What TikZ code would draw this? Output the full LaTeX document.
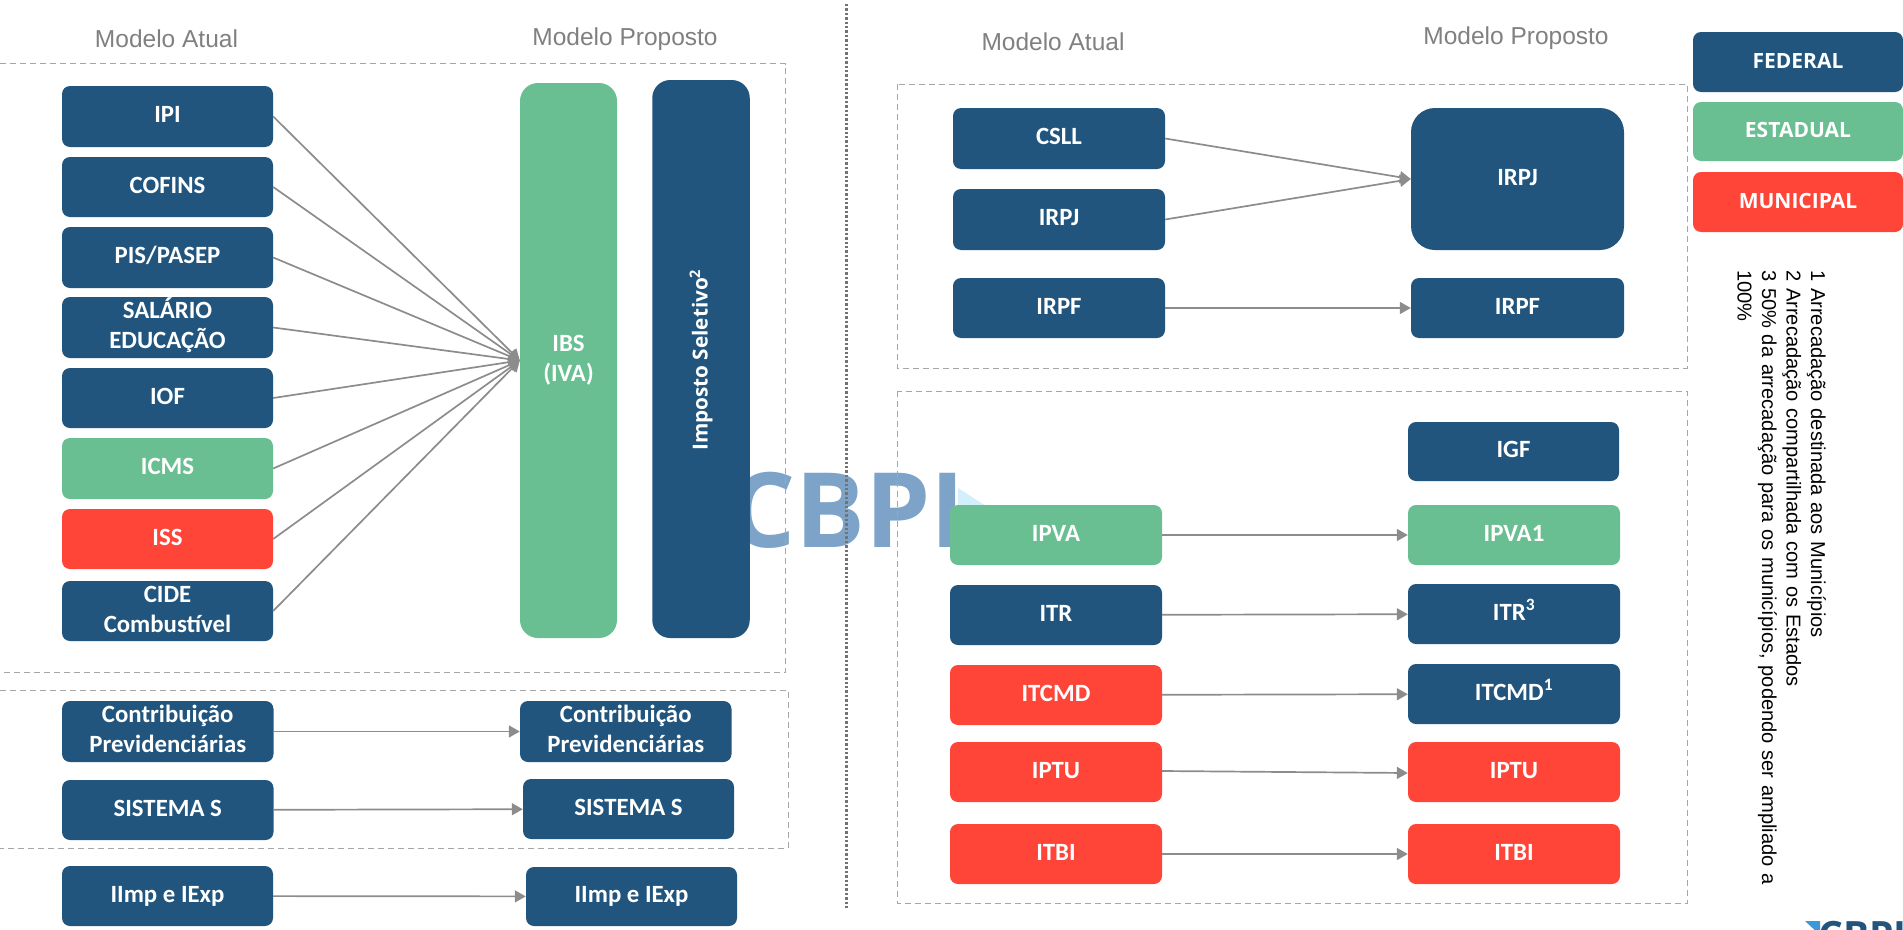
\documentclass[tikz,border=0pt]{standalone}
\usepackage{fontspec}
\setmainfont{Liberation Sans}
\newfontfamily\boxfont{Carlito}
\newfontfamily\widefont{Open Sans}
\usetikzlibrary{arrows.meta,calc}
\definecolor{fed}{HTML}{21557D}
\definecolor{est}{HTML}{6ABF92}
\definecolor{mun}{HTML}{FF4438}
\definecolor{conn}{HTML}{8C8C8C}
\definecolor{dash}{HTML}{A6A6A6}
\definecolor{mark}{HTML}{3F78B0}
\tikzset{
  x=1pt,y=-1pt,
  pill/.style={rounded corners=8pt,inner sep=0pt,align=center,text=white,font=\boxfont\bfseries\fontsize{24.8}{30}\selectfont},
  federal/.style={pill,fill=fed},
  estadual/.style={pill,fill=est},
  municipal/.style={pill,fill=mun},
  legendbox/.style={font=\widefont\bfseries\fontsize{21}{30}\selectfont},
  conn/.style={draw=conn,line width=1.7pt,-{Triangle[length=11pt,width=12pt]}},
  frame/.style={draw=dash,line width=1pt,dash pattern=on 6pt off 4pt},
  heading/.style={text=black!50,font=\fontsize{24.5}{28}\selectfont,inner sep=0pt},
  note/.style={rotate=-90,anchor=north west,inner sep=0pt,font=\fontsize{20.1}{24.5}\selectfont,text width=640pt,align=left}
}
\newcommand{\lbl}[1]{\raisebox{-6.2pt}{\begin{tabular}{@{}c@{}}#1\end{tabular}}}
\newcommand{\pillnode}[7]{\node[#1,minimum width={(#4)-(#3)},minimum height={(#6)-(#5)}] (#2) at ({((#3)+(#4))/2},{((#5)+(#6))/2}) {\lbl{#7}};}
\begin{document}
\begin{tikzpicture}
\useasboundingbox (0,0) rectangle (1903,929);
% watermark
\node[inner sep=0pt,text=mark,opacity=.68,font=\widefont\bfseries\fontsize{104}{104}\selectfont] (logo) at (847,510) {CBPI};
\coordinate (tri1) at (958,488);\coordinate (tri2) at (958,530);\coordinate (tri3) at (992,510);
\fill[cyan!18] (tri1)--(tri3)--(tri2)--cycle;
% frames
\coordinate (f1a) at (0,63.5);\coordinate (f1b) at (785.5,63.5);\coordinate (f1c) at (785.5,672);\coordinate (f1d) at (0,672);
\draw[frame] (f1a)--(f1b)--(f1c)--(f1d);
\coordinate (f2a) at (0,690);\coordinate (f2b) at (788,690);\coordinate (f2c) at (788,848);\coordinate (f2d) at (0,848);
\draw[frame] (f2a)--(f2b)--(f2c)--(f2d);
\coordinate (f3a) at (897,84);\coordinate (f3b) at (1687,368);
\draw[frame] (f3a) rectangle (f3b);
\coordinate (f4a) at (897,391);\coordinate (f4b) at (1687,903.5);
\draw[frame] (f4a) rectangle (f4b);
\coordinate (d1) at (846,4);\coordinate (d2) at (846,910);
\draw[draw=black!55,line width=3pt,dash pattern=on 2.4pt off 2pt] (d1)--(d2);
% headings
\node[heading] (h1) at (166.5,39) {Modelo Atual};
\node[heading] (h2) at (625,39.5) {Modelo Proposto};
\node[heading] (h3) at (1053,42) {Modelo Atual};
\node[heading] (h4) at (1516,38) {Modelo Proposto};
% left column
\pillnode{federal}{ipi}{62}{273}{86}{147}{IPI}
\pillnode{federal}{cofins}{62}{273}{157}{217}{COFINS}
\pillnode{federal}{pis}{62}{273}{227}{288}{PIS/PASEP}
\pillnode{federal}{sal}{62}{273}{297}{358}{SALÁRIO\\EDUCAÇÃO}
\pillnode{federal}{iof}{62}{273}{368}{428}{IOF}
\pillnode{estadual}{icms}{62}{273}{438}{499}{ICMS}
\pillnode{municipal}{iss}{62}{273}{509}{569}{ISS}
\pillnode{federal}{cide}{62}{273}{581}{641}{CIDE\\Combustível}
\node[estadual,rounded corners=18pt,minimum width=97pt,minimum height=555pt] (ibs) at (568.5,360.5) {\lbl{IBS\\(IVA)}};
\node[federal,rounded corners=18pt,minimum width=97.5pt,minimum height=558pt] (sel) at (701,359) {};
\node[inner sep=0pt,rotate=90,text=white,font=\widefont\bfseries\fontsize{20.7}{24}\selectfont] (sellabel) at (701,360) {Imposto Seletivo\textsuperscript{2}};
\foreach \n in {ipi,cofins,pis,sal,iof,icms,iss,cide} \draw[conn] (\n.east) -- (ibs.west);
\pillnode{federal}{cp1}{62}{273.5}{701}{762}{Contribuição\\Previdenciárias}
\pillnode{federal}{cp2}{520}{731.5}{701}{762}{Contribuição\\Previdenciárias}
\pillnode{federal}{ss1}{62}{273.5}{780}{840}{SISTEMA S}
\pillnode{federal}{ss2}{523}{734}{779}{839}{SISTEMA S}
\pillnode{federal}{ii1}{62}{273}{866}{926}{IImp e IExp}
\pillnode{federal}{ii2}{526}{737}{867}{926}{IImp e IExp}
\draw[conn] (cp1) -- (cp2);
\draw[conn] (ss1) -- (ss2);
\draw[conn] (ii1) -- (ii2);
% right panel
\pillnode{federal}{csll}{953}{1165}{108}{169}{CSLL}
\pillnode{federal}{irpj}{953}{1165}{189}{250}{IRPJ}
\pillnode{federal}{irpf}{953}{1165}{278}{338}{IRPF}
\node[federal,rounded corners=24pt,minimum width=213pt,minimum height=142pt] (irpjb) at (1517.5,179) {\lbl{IRPJ}};
\pillnode{federal}{irpfb}{1411}{1624}{278}{338}{IRPF}
\draw[conn] (csll.east) -- (irpjb.west);
\draw[conn] (irpj.east) -- (irpjb.west);
\draw[conn] (irpf) -- (irpfb);
\pillnode{federal}{igf}{1408}{1619}{422}{481}{IGF}
\pillnode{estadual}{ipva}{950}{1162}{505}{565}{IPVA}
\pillnode{estadual}{ipvab}{1408}{1620}{505}{565}{IPVA1}
\pillnode{federal}{itr}{950}{1162}{585}{645}{ITR}
\pillnode{federal}{itrb}{1408}{1620}{584}{644}{ITR\textsuperscript{3}}
\pillnode{municipal}{itcmd}{950}{1162}{665}{725}{ITCMD}
\pillnode{federal}{itcmdb}{1408}{1620}{664}{724}{ITCMD\textsuperscript{1}}
\pillnode{municipal}{iptu}{950}{1162}{742}{802}{IPTU}
\pillnode{municipal}{iptub}{1408}{1620}{742}{802}{IPTU}
\pillnode{municipal}{itbi}{950}{1162}{824}{884}{ITBI}
\pillnode{municipal}{itbib}{1408}{1620}{824}{884}{ITBI}
\draw[conn] (ipva) -- (ipvab);
\draw[conn] (itr) -- (itrb);
\draw[conn] (itcmd) -- (itcmdb);
\draw[conn] ([yshift=1pt]iptu.east) -- ([yshift=-1pt]iptub.west);
\draw[conn] (itbi) -- (itbib);
% legend
\pillnode{federal,legendbox}{lf}{1693}{1903}{32}{92}{FEDERAL}
\pillnode{estadual,legendbox}{le}{1693}{1903}{102}{161}{ESTADUAL}
\pillnode{municipal,legendbox}{lm}{1693}{1903}{172}{232}{MUNICIPAL}
% notes
\node[note] (notes) at (1826,270) {1 Arrecadação destinada aos Municípios\\2 Arrecadação compartilhada com os Estados\\3 50\% da arrecadação para os municípios, podendo ser ampliado a 100\%};
% corner logo
\begin{scope}
\clip (1780,900) rectangle (1903,929);
\coordinate (ct1) at (1805,921);\coordinate (ct2) at (1820,921);\coordinate (ct3) at (1820,935);
\fill[cyan!70!blue!80] (ct1)--(ct2)--(ct3)--cycle;
\node[inner sep=0pt,text=fed,anchor=north west,font=\widefont\bfseries\fontsize{39}{39}\selectfont] (cornerlogo) at (1818,921) {CBPI};
\end{scope}
\end{tikzpicture}
\end{document}
